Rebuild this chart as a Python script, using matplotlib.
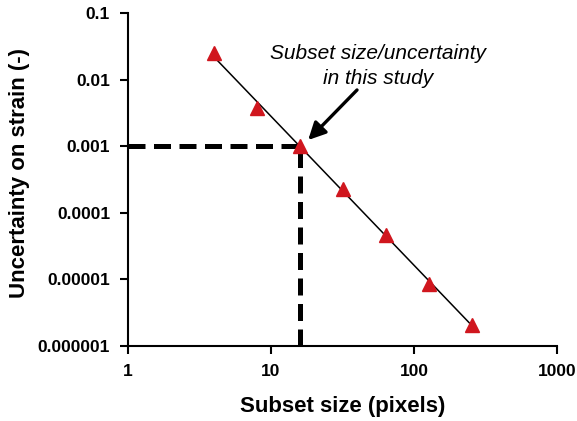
import numpy as np
import matplotlib.pyplot as plt

plt.rcParams['font.family'] = ['Liberation Sans', 'DejaVu Sans']

# subset size (pixels) vs. uncertainty on strain
subset_size = [4, 8, 16, 32, 64, 128, 256]
uncertainty = [0.025, 0.0037, 0.001, 0.00023, 0.0000465, 0.0000085, 0.0000021]

chosen_size = 16
chosen_uncertainty = 0.001

x_ticks = [1, 10, 100, 1000]
x_tick_labels = ['1', '10', '100', '1000']
y_ticks = [1e-6, 1e-5, 1e-4, 1e-3, 1e-2, 1e-1]
y_tick_labels = ['0.000001', '0.00001', '0.0001', '0.001', '0.01', '0.1']

fig = plt.figure(figsize=(5.77, 4.21), dpi=100)
ax = fig.add_axes([0.222, 0.178, 0.743, 0.791])

# power-law trend line (fit in log space)
coef = np.polyfit(np.log10(subset_size), np.log10(uncertainty), 1)
xs = np.array([subset_size[0], subset_size[-1]])
ax.plot(xs, 10 ** np.polyval(coef, np.log10(xs)), color='black', lw=1.1, zorder=2)

ax.plot(subset_size, uncertainty, linestyle='none', marker='^', ms=10,
        color='#d0161e', markeredgecolor='#d0161e', zorder=3)

# dashed guide lines
ax.plot([1, chosen_size], [chosen_uncertainty, chosen_uncertainty],
        color='black', lw=3.6, dashes=(3.4, 1.7), zorder=1)
ax.plot([chosen_size, chosen_size], [1e-6, chosen_uncertainty],
        color='black', lw=3.6, dashes=(3.4, 1.7), zorder=1)

ax.text(56, 0.0162, 'Subset size/uncertainty\nin this study',
        ha='center', va='center', fontsize=15, style='italic', linespacing=1.4)
ax.annotate('', xy=(18.2, 0.00124), xytext=(40, 0.007),
            arrowprops=dict(arrowstyle='-|>', color='black', lw=2.4,
                            mutation_scale=26, shrinkA=0, shrinkB=0))

ax.set_xscale('log')
ax.set_yscale('log')
ax.set_xlim(1, 1000)
ax.set_ylim(1e-6, 0.1)
ax.set_xticks(x_ticks)
ax.set_xticklabels(x_tick_labels)
ax.set_yticks(y_ticks)
ax.set_yticklabels(y_tick_labels)
ax.minorticks_off()
ax.tick_params(direction='out', length=6, width=1.5, labelsize=12.5, pad=7)
for lab in ax.get_xticklabels() + ax.get_yticklabels():
    lab.set_fontweight('bold')

ax.spines['top'].set_visible(False)
ax.spines['right'].set_visible(False)
ax.spines['left'].set_linewidth(1.5)
ax.spines['bottom'].set_linewidth(1.5)

ax.set_xlabel('Subset size (pixels)', fontsize=16, fontweight='bold', labelpad=12)
ax.set_ylabel('Uncertainty on strain (-)', fontsize=16, fontweight='bold')
ax.yaxis.set_label_coords(-0.228, 0.52)

fig.savefig('out.png', dpi=100)
